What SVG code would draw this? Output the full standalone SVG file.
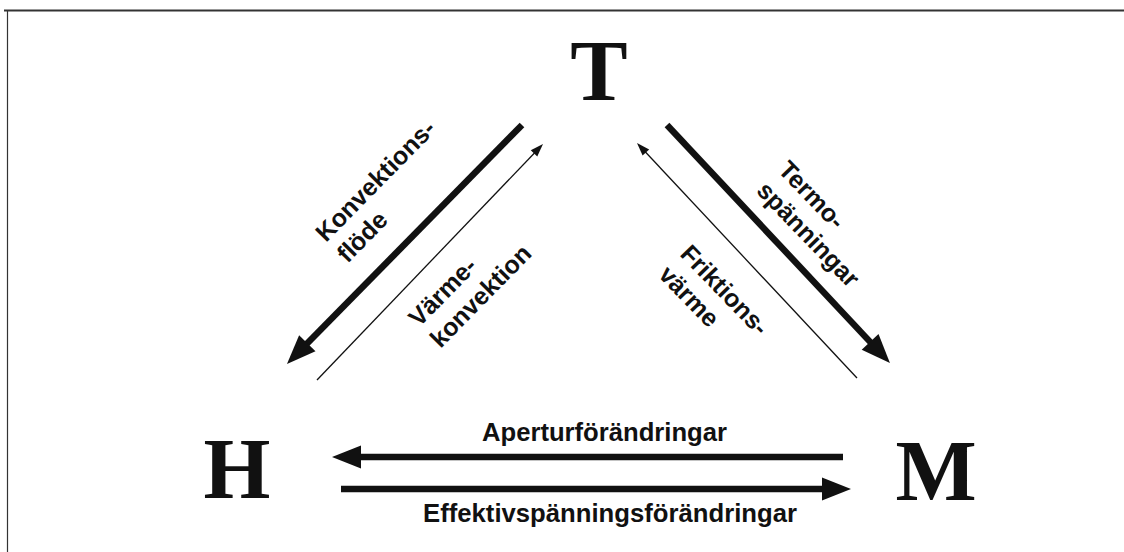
<svg xmlns="http://www.w3.org/2000/svg" width="1124" height="552" viewBox="0 0 1124 552">
<style>
.node{font-family:"Liberation Serif","Times New Roman",serif;font-weight:bold;font-size:86px;fill:#111;text-anchor:middle}
.lbl{font-family:"Liberation Sans",Arial,sans-serif;font-weight:bold;font-size:25px;fill:#111}
.thick{stroke:#111;stroke-width:6.5;fill:none}
.thin{stroke:#111;stroke-width:1.3;fill:none}
.frame{stroke:#333;fill:none}
</style>
<defs>
<marker id="bighead" viewBox="-2 -13 32 26" refX="0" refY="0" markerWidth="32" markerHeight="26" markerUnits="userSpaceOnUse" orient="auto">
<path d="M-1,-11.5 L28,0 L-1,11.5 z" fill="#111"/>
</marker>
<marker id="smallhead" viewBox="-2 -6 16 12" refX="0" refY="0" markerWidth="16" markerHeight="12" markerUnits="userSpaceOnUse" orient="auto">
<path d="M-1,-4.5 L12,0 L-1,4.5 z" fill="#111"/>
</marker>
</defs>
<rect width="1124" height="552" fill="#fff"/>
<g id="frame">
<line class="frame" x1="4" y1="10.5" x2="1124" y2="10.5" stroke-width="2"/>
<line class="frame" x1="7.5" y1="10" x2="7.5" y2="552" stroke-width="1.2"/>
</g>
<g id="node-T"><text class="node" x="599" y="100">T</text></g>
<g id="node-H"><text class="node" x="237" y="498">H</text></g>
<g id="node-M"><text class="node" x="936" y="500">M</text></g>
<g id="connectors">
<g id="edge-T-H">
<line class="thick" x1="522" y1="125" x2="306.6" y2="344" marker-end="url(#bighead)"/>
<text class="lbl" transform="translate(326,243) rotate(-45.5)"><tspan x="0" y="0">Konvektions-</tspan><tspan x="0" y="30">flöde</tspan></text>
</g>
<g id="edge-H-T">
<line class="thin" x1="317" y1="380" x2="534.7" y2="152.7" marker-end="url(#smallhead)"/>
<text class="lbl" transform="translate(419,328) rotate(-45.5)"><tspan x="0" y="0">Värme-</tspan><tspan x="0" y="30">konvektion</tspan></text>
</g>
<g id="edge-T-M">
<line class="thick" x1="667" y1="125" x2="870.8" y2="342.6" marker-end="url(#bighead)"/>
<text class="lbl" transform="translate(777,171) rotate(46)"><tspan x="0" y="0">Termo-</tspan><tspan x="0" y="30">spänningar</tspan></text>
</g>
<g id="edge-M-T">
<line class="thin" x1="857" y1="378" x2="645.2" y2="151.8" marker-end="url(#smallhead)"/>
<text class="lbl" transform="translate(679,255) rotate(46)"><tspan x="0" y="0">Friktions-</tspan><tspan x="0" y="30">värme</tspan></text>
</g>
<g id="edge-M-H">
<line class="thick" x1="843" y1="457" x2="360" y2="457" marker-end="url(#bighead)"/>
<text class="lbl" x="604.5" y="441" text-anchor="middle" textLength="245" lengthAdjust="spacingAndGlyphs">Aperturförändringar</text>
</g>
<g id="edge-H-M">
<line class="thick" x1="341" y1="489" x2="823" y2="489" marker-end="url(#bighead)"/>
<text class="lbl" x="610" y="522" text-anchor="middle" textLength="374" lengthAdjust="spacingAndGlyphs">Effektivspänningsförändringar</text>
</g>
</g>
</svg>
